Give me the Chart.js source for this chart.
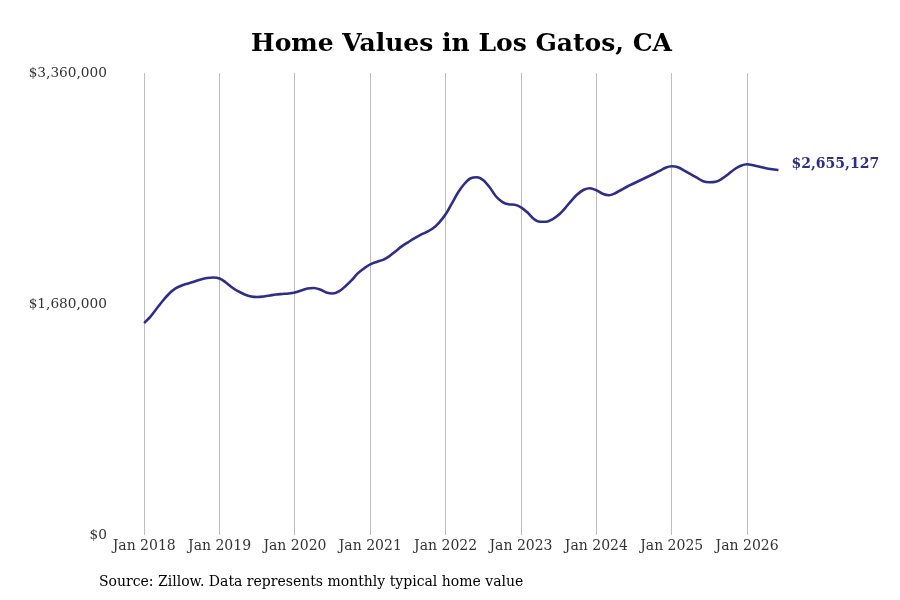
<!DOCTYPE html>
<html>
<head>
<meta charset="utf-8">
<script src="https://cdn.jsdelivr.net/npm/chart.js@4/dist/chart.umd.min.js"></script>
<style>
  html, body { margin: 0; padding: 0; background: #fff; }
  #wrap { width: 900px; height: 600px; }
</style>
</head>
<body>
<div id="wrap"><canvas id="homeChart"></canvas></div>
<script>
// Months since Jan 2018 (0 = Jan 2018)
const months = [
  0, 1, 2, 3, 4, 5, 6, 7, 8, 9, 10, 11,
  12, 13, 14, 15, 16, 17, 18, 19, 20, 21, 22, 23,
  24, 25, 26, 27, 28, 29, 30, 31, 32, 33, 34, 35,
  36, 37, 38, 39, 40, 41, 42, 43, 44, 45, 46, 47,
  48, 49, 50, 51, 52, 53, 54, 55, 56, 57, 58, 59,
  60, 61, 62, 63, 64, 65, 66, 67, 68, 69, 70, 71,
  72, 73, 74, 75, 76, 77, 78, 79, 80, 81, 82, 83,
  84, 85, 86, 87, 88, 89, 90, 91, 92, 93, 94, 95,
  96, 97, 98, 99, 100, 101
];

// Typical home value (USD), monthly
const homeValues = [
  1541500, 1588900, 1647200, 1705500, 1756500, 1793000, 1814800, 1829400, 1844000, 1858600, 1869500, 1873100,
  1865900, 1836700, 1800300, 1771100, 1749200, 1734700, 1731000, 1734700, 1742000, 1749200, 1752900, 1756500,
  1763800, 1778400, 1793000, 1796600, 1785700, 1763800, 1756500, 1771100, 1807500, 1851300, 1902300, 1938700,
  1967900, 1986100, 2000700, 2026200, 2062600, 2099100, 2128200, 2157400, 2182900, 2204800, 2230300, 2274000,
  2332300, 2412500, 2492700, 2554600, 2594700, 2602000, 2580100, 2529100, 2463500, 2423400, 2405200, 2401500,
  2383300, 2346900, 2299500, 2277700, 2277700, 2295900, 2328700, 2376000, 2430700, 2478100, 2510900, 2521800,
  2507200, 2481700, 2470800, 2485400, 2510900, 2536400, 2558200, 2580100, 2602000, 2623900, 2645700, 2671200,
  2682200, 2674900, 2649400, 2623900, 2598400, 2572800, 2565600, 2569200, 2591100, 2623900, 2660300, 2685800,
  2696700, 2689400, 2678500, 2667600, 2660300, 2655127
];

// Axis ticks
const xTickMonths = [0, 12, 24, 36, 48, 60, 72, 84, 96];
const xTickLabels = ['Jan 2018', 'Jan 2019', 'Jan 2020', 'Jan 2021', 'Jan 2022', 'Jan 2023', 'Jan 2024', 'Jan 2025', 'Jan 2026'];
const yTicks = [0, 1680000, 3360000];

const lineColor = '#2e2d88';
const serif = "'DejaVu Serif', 'Liberation Serif', serif";

const fmtUsd = v => '$' + Math.round(v).toLocaleString('en-US');

// Draws the end-of-line value label and the source note
const annotations = {
  id: 'annotations',
  afterDraw(chart) {
    const ctx = chart.ctx;
    const meta = chart.getDatasetMeta(0);
    const last = meta.data[meta.data.length - 1];
    ctx.save();
    ctx.font = 'bold 14px ' + serif;
    ctx.fillStyle = lineColor;
    ctx.textAlign = 'left';
    ctx.textBaseline = 'middle';
    ctx.fillText(fmtUsd(homeValues[homeValues.length - 1]), last.x + 13, last.y - 6);

    ctx.font = '14px ' + serif;
    ctx.fillStyle = '#000';
    ctx.textBaseline = 'middle';
    ctx.fillText('Source: Zillow. Data represents monthly typical home value', 99, 582);
    ctx.restore();
  }
};

const ctx = document.getElementById('homeChart').getContext('2d');
window.homeChartInstance = new Chart(ctx, {
  type: 'line',
  data: {
    labels: months,
    datasets: [{
      label: 'Typical home value',
      data: months.map((m, i) => ({ x: m, y: homeValues[i] })),
      borderColor: lineColor,
      borderWidth: 2.6,
      pointRadius: 0,
      fill: false,
      cubicInterpolationMode: 'monotone'
    }]
  },
  options: {
    responsive: true,
    maintainAspectRatio: false,
    animation: false,
    layout: {
      padding: { left: 23, right: 0, top: 0, bottom: 0 }
    },
    plugins: {
      legend: { display: false },
      tooltip: { enabled: false },
      title: {
        display: true,
        text: 'Home Values in Los Gatos, CA',
        color: '#000',
        font: { family: serif, size: 25, weight: 'bold' },
        padding: { top: 29, bottom: 14 }
      }
    },
    scales: {
      x: {
        type: 'linear',
        min: -4.65,
        max: 120.35,
        afterBuildTicks: scale => {
          scale.ticks = xTickMonths.map(v => ({ value: v }));
        },
        afterFit: scale => { scale.height = 65; },
        ticks: {
          color: '#333',
          font: { family: serif, size: 14 },
          padding: 3,
          maxRotation: 0,
          autoSkip: false,
          callback: function(value) {
            const idx = xTickMonths.indexOf(value);
            return idx >= 0 ? xTickLabels[idx] : '';
          }
        },
        grid: {
          color: '#bdbdbd',
          lineWidth: 1,
          drawTicks: false
        },
        border: { display: false }
      },
      y: {
        min: 0,
        max: 3360000,
        afterBuildTicks: scale => {
          scale.ticks = yTicks.map(v => ({ value: v }));
        },
        afterFit: scale => { scale.width = 92; },
        ticks: {
          color: '#333',
          font: { family: serif, size: 13.7 },
          padding: 8,
          callback: value => fmtUsd(value)
        },
        grid: { display: false, drawTicks: false },
        border: { display: false }
      }
    }
  },
  plugins: [annotations]
});
</script>
</body>
</html>
